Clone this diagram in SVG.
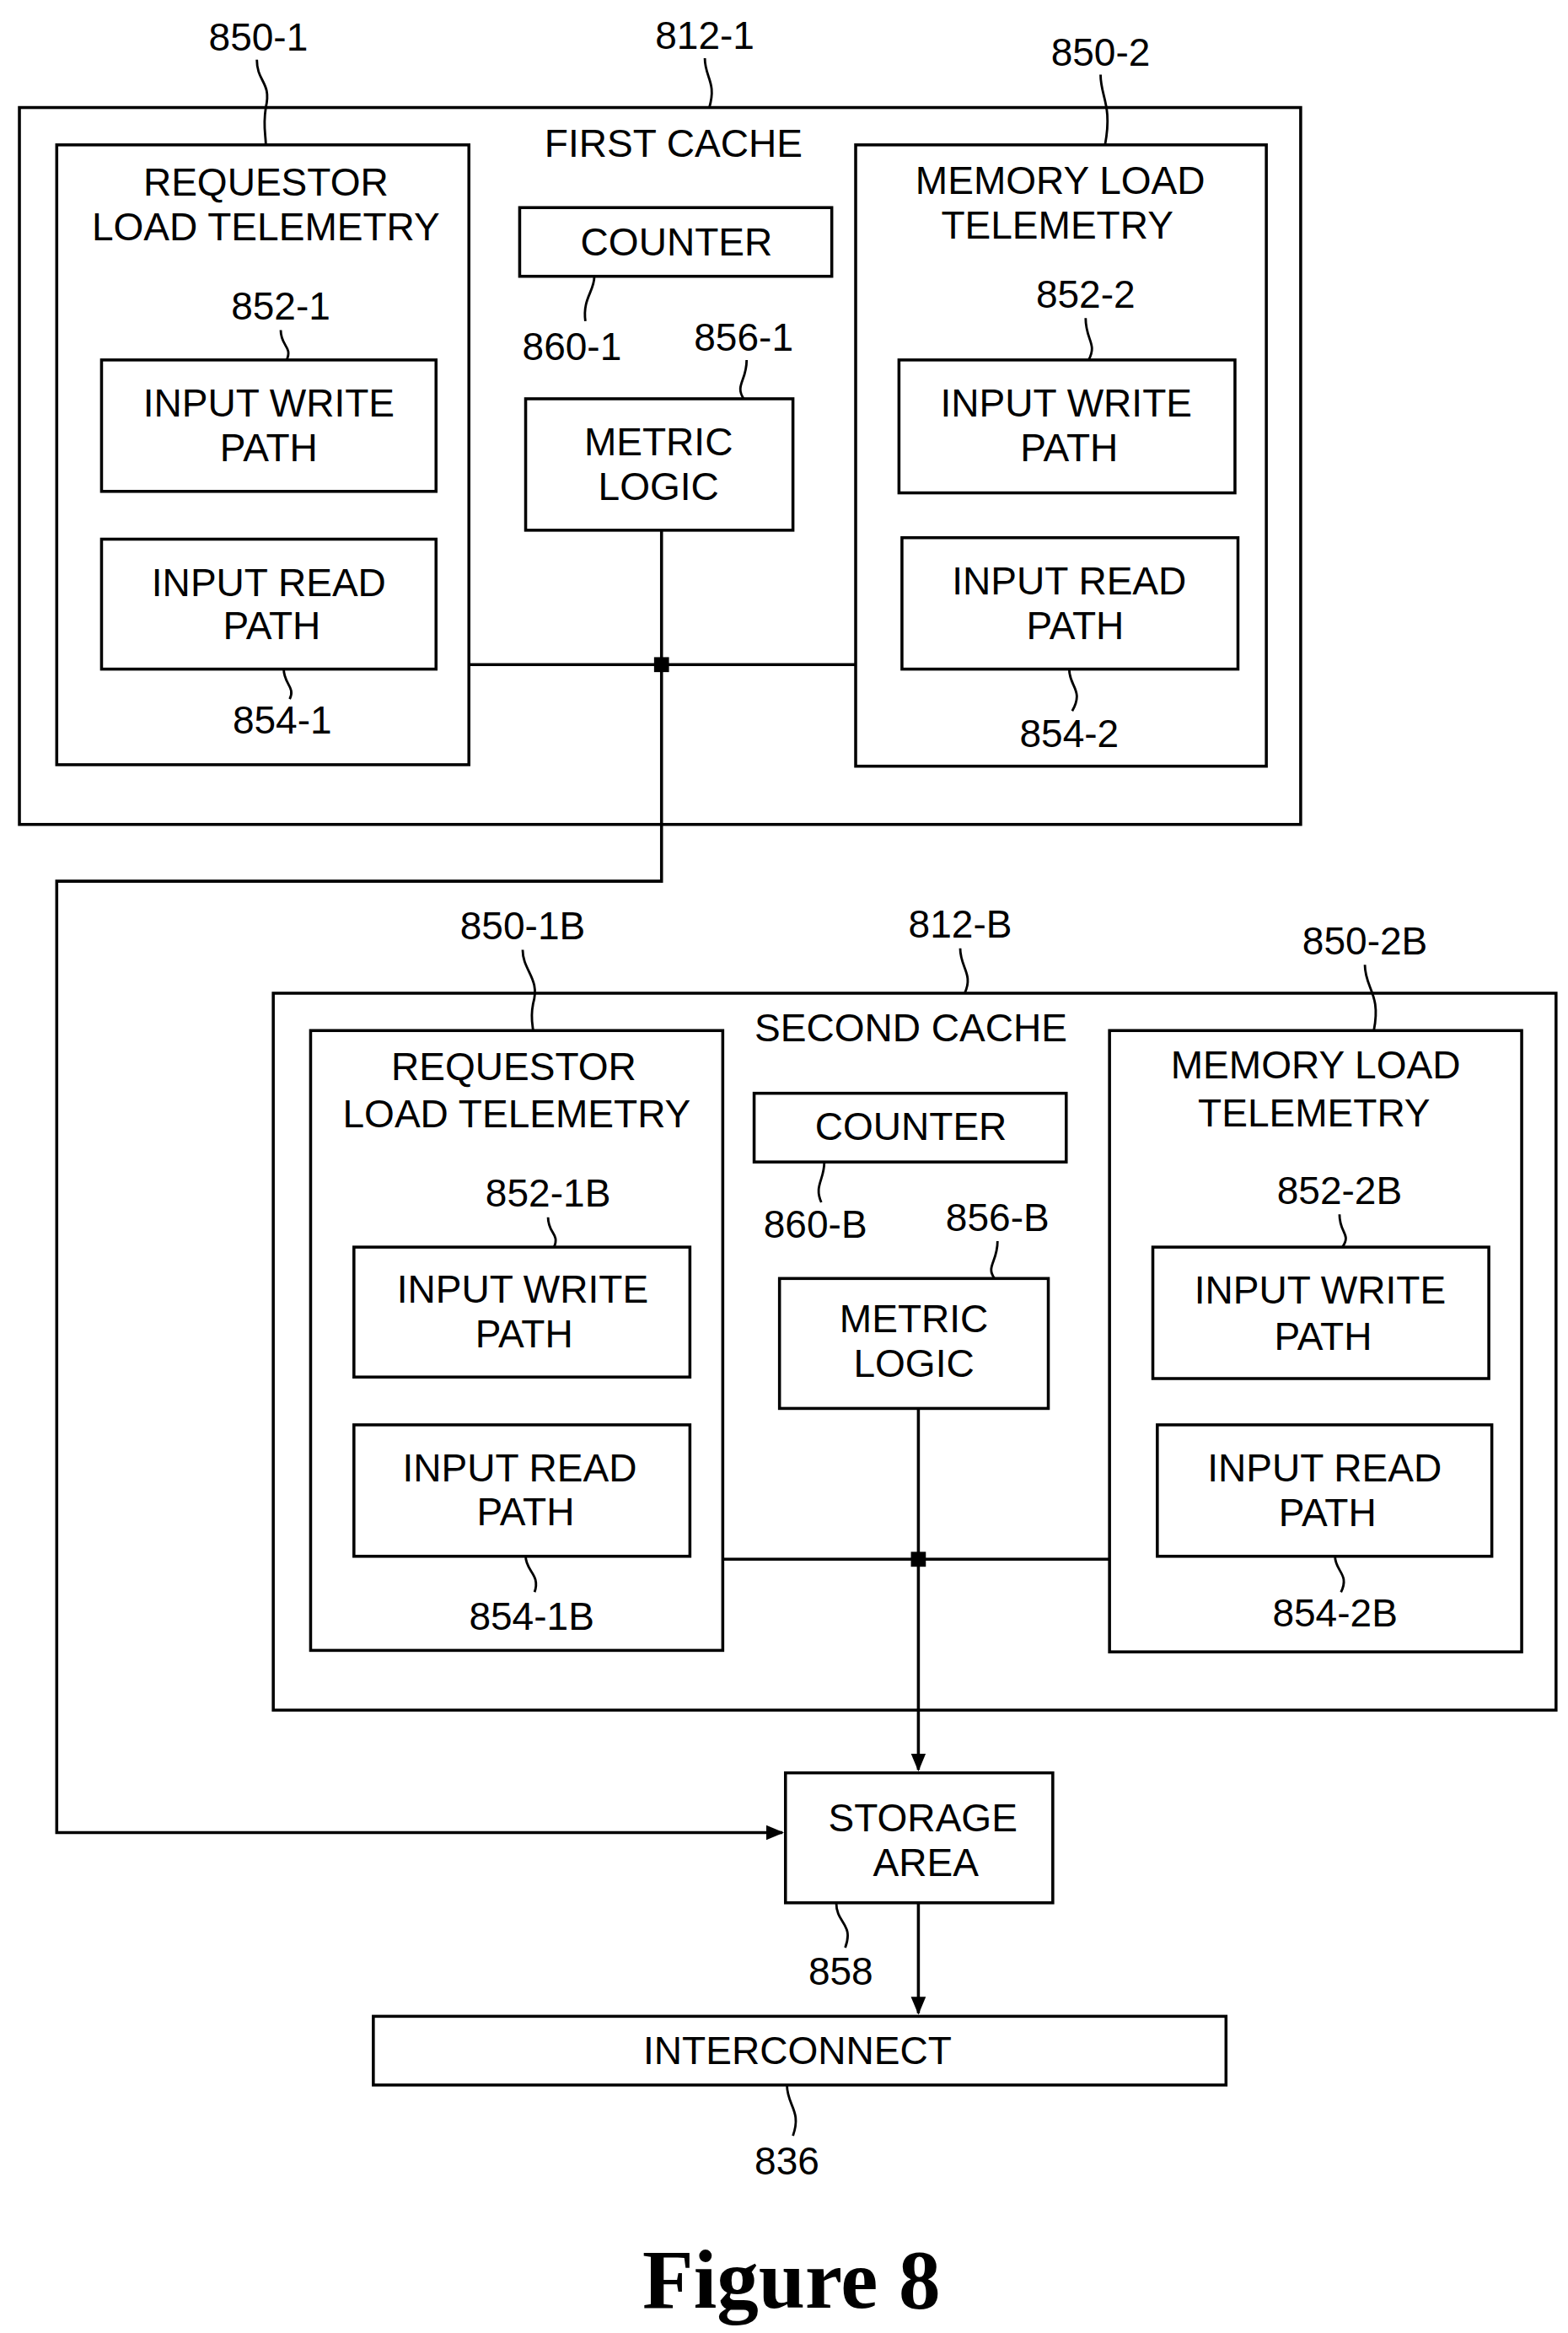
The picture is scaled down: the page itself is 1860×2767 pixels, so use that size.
<svg xmlns="http://www.w3.org/2000/svg" width="1860" height="2767" viewBox="0 0 1860 2767">
<style>
rect{fill:none;stroke:#000;stroke-width:2}
.l{fill:none;stroke:#000;stroke-width:1.6}
.w{fill:none;stroke:#000;stroke-width:2}
text{font-family:"Liberation Sans",Arial,sans-serif;font-size:26px;text-anchor:middle;fill:#000}
.f{font-family:"Liberation Serif","Times New Roman",serif;font-weight:bold;font-size:56px}
</style>
<defs><marker id="a" markerWidth="12" markerHeight="12" refX="11" refY="6" orient="auto" markerUnits="userSpaceOnUse"><path d="M0,1 L12,6 L0,11 Z"/></marker></defs>
<rect x="0" y="0" width="1860" height="2767" style="fill:#fff;stroke:none"/>
<g transform="scale(1.7714)">
<g id="cache1"><rect x="13" y="72" width="858" height="480"/><text x="451" y="105">FIRST CACHE</text>
<text x="173" y="34">850-1</text><path class="l" d="M172,40 C172,55 182,55 178,72 C176,85 178,90 178,97"/>
<text x="472" y="33">812-1</text><path class="l" d="M472,39 C472,52 480,55 475,72"/>
<text x="737" y="44">850-2</text><path class="l" d="M737,50 C737,65 745,70 740,97"/>
</g>
<g id="reqtel1"><rect x="38" y="97" width="276" height="415"/><text x="178" y="131">REQUESTOR</text><text x="178" y="161">LOAD TELEMETRY</text></g>
<g id="iw1"><rect x="68" y="241" width="224" height="88"/><text x="180" y="279">INPUT WRITE</text><text x="180" y="309">PATH</text>
<text x="188" y="214">852-1</text><path class="l" d="M188,221 C188,232 196,232 192,241"/></g>
<g id="ir1"><rect x="68" y="361" width="224" height="87"/><text x="180" y="399">INPUT READ</text><text x="182" y="428">PATH</text>
<text x="189" y="491">854-1</text><path class="l" d="M190,448 C190,458 198,460 194,468"/></g>
<g id="cnt1"><rect x="348" y="139" width="209" height="46"/><text x="453" y="171">COUNTER</text>
<text x="383" y="241">860-1</text><path class="l" d="M398,185 C398,195 390,200 392,215"/></g>
<g id="ml1"><rect x="352" y="267" width="179" height="88"/><text x="441" y="305">METRIC</text><text x="441" y="335">LOGIC</text>
<text x="498" y="235">856-1</text><path class="l" d="M500,241 C500,255 492,258 498,267"/></g>
<g id="memtel1"><rect x="573" y="97" width="275" height="416"/><text x="710" y="130">MEMORY LOAD</text><text x="708" y="160">TELEMETRY</text></g>
<g id="iw2"><rect x="602" y="241" width="225" height="89"/><text x="714" y="279">INPUT WRITE</text><text x="716" y="309">PATH</text>
<text x="727" y="206">852-2</text><path class="l" d="M727,213 C727,228 735,230 729,241"/></g>
<g id="ir2"><rect x="604" y="360" width="225" height="88"/><text x="716" y="398">INPUT READ</text><text x="720" y="428">PATH</text>
<text x="716" y="500">854-2</text><path class="l" d="M716,448 C716,460 726,462 718,476"/></g>

<g id="cache2"><rect x="183" y="665" width="859" height="480"/><text x="610" y="697">SECOND CACHE</text>
<text x="350" y="629">850-1B</text><path class="l" d="M350,636 C350,650 362,655 357,672 C355,682 357,688 357,690"/>
<text x="643" y="628">812-B</text><path class="l" d="M643,635 C643,648 652,652 646,665"/>
<text x="914" y="639">850-2B</text><path class="l" d="M914,646 C914,662 925,665 920,690"/>
</g>
<g id="reqtel2"><rect x="208" y="690" width="276" height="415"/><text x="344" y="723">REQUESTOR</text><text x="346" y="755">LOAD TELEMETRY</text></g>
<g id="iw3"><rect x="237" y="835" width="225" height="87"/><text x="350" y="872">INPUT WRITE</text><text x="351" y="902">PATH</text>
<text x="367" y="808">852-1B</text><path class="l" d="M367,815 C367,826 375,826 371,835"/></g>
<g id="ir3"><rect x="237" y="954" width="225" height="88"/><text x="348" y="992">INPUT READ</text><text x="352" y="1021">PATH</text>
<text x="356" y="1091">854-1B</text><path class="l" d="M352,1042 C352,1052 362,1054 358,1066"/></g>
<g id="cnt2"><rect x="505" y="732" width="209" height="46"/><text x="610" y="763">COUNTER</text>
<text x="546" y="829">860-B</text><path class="l" d="M552,778 C552,790 545,794 550,805"/></g>
<g id="ml2"><rect x="522" y="856" width="180" height="87"/><text x="612" y="892">METRIC</text><text x="612" y="922">LOGIC</text>
<text x="668" y="824">856-B</text><path class="l" d="M668,831 C668,845 660,848 666,856"/></g>
<g id="memtel2"><rect x="743" y="690" width="276" height="416"/><text x="881" y="722">MEMORY LOAD</text><text x="880" y="754">TELEMETRY</text></g>
<g id="iw4"><rect x="772" y="835" width="225" height="88"/><text x="884" y="873">INPUT WRITE</text><text x="886" y="904">PATH</text>
<text x="897" y="806">852-2B</text><path class="l" d="M897,813 C897,826 905,826 899,835"/></g>
<g id="ir4"><rect x="775" y="954" width="224" height="88"/><text x="887" y="992">INPUT READ</text><text x="889" y="1022">PATH</text>
<text x="894" y="1089">854-2B</text><path class="l" d="M894,1042 C894,1052 904,1054 898,1066"/></g>

<g id="storage"><rect x="526" y="1187" width="179" height="87"/><text x="618" y="1226">STORAGE</text><text x="620" y="1256">AREA</text>
<text x="563" y="1329">858</text><path class="l" d="M560,1274 C560,1288 572,1288 566,1304"/></g>
<g id="interconnect"><rect x="250" y="1350" width="571" height="46"/><text x="534" y="1382">INTERCONNECT</text>
<text x="527" y="1456">836</text><path class="l" d="M527,1396 C527,1410 537,1413 531,1430"/></g>

<g id="connectors">
<path class="w" d="M314,445 H573"/>
<path class="w" d="M443,355 V590 H38 V1227 H524" marker-end="url(#a)"/>
<rect x="439" y="441" width="8" height="8" style="fill:#000"/>
<path class="w" d="M484,1044 H743"/>
<path class="w" d="M615,943 V1185" marker-end="url(#a)"/>
<rect x="611" y="1040" width="8" height="8" style="fill:#000"/>
<path class="w" d="M615,1274 V1348" marker-end="url(#a)"/>
</g>
<text class="f" x="530" y="1545">Figure 8</text>
</g>
</svg>
